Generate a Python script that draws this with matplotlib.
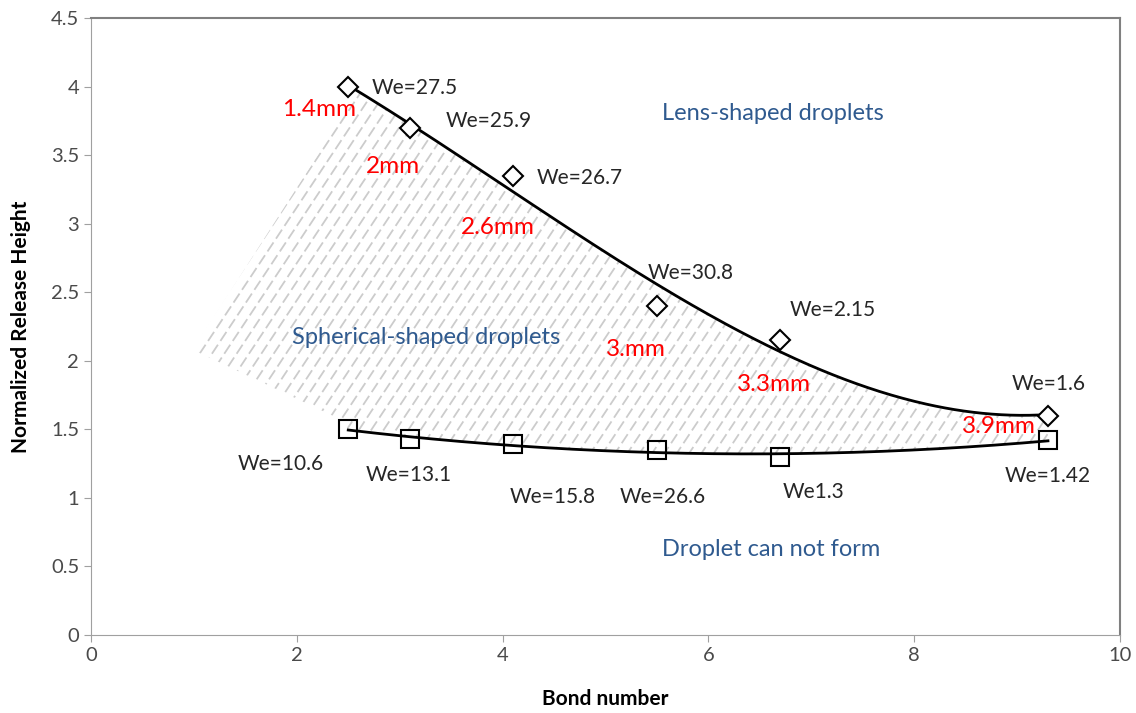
import numpy as np
import matplotlib
matplotlib.use("Agg")
import matplotlib.pyplot as plt
from matplotlib.patches import Polygon

plt.rcParams['font.family'] = ['Lato', 'DejaVu Sans']

# data
bond = [2.5, 3.1, 4.1, 5.5, 6.7, 9.3]
h_lens = [4.0, 3.7, 3.35, 2.4, 2.15, 1.6]
h_sphere = [1.5, 1.43, 1.39, 1.35, 1.3, 1.42]

we_upper = ["We=27.5", "We=25.9", "We=26.7", "We=30.8", "We=2.15", "We=1.6"]
we_upper_pos = [(2.73, 3.99), (3.45, 3.75), (4.33, 3.33), (5.41, 2.64), (6.79, 2.37), (8.95, 1.83)]
we_lower = ["We=10.6", "We=13.1", "We=15.8", "We=26.6", "We1.3", "We=1.42"]
we_lower_pos = [(1.43, 1.25), (2.67, 1.17), (4.07, 1.01), (5.14, 1.01), (6.72, 1.04), (8.88, 1.16)]
diam = ["1.4mm", "2mm", "2.6mm", "3.mm", "3.3mm", "3.9mm"]
diam_pos = [(1.86, 3.83), (2.67, 3.42), (3.59, 2.97), (5.0, 2.08), (6.28, 1.83), (8.46, 1.52)]
regions = ["Lens-shaped droplets", "Spherical-shaped droplets", "Droplet can not form"]
region_pos = [(5.55, 3.80), (1.95, 2.17), (5.55, 0.62)]

# trendlines (like the excel polynomial ones)
p_up = np.polyfit(bond, h_lens, 3)
p_lo = np.polyfit(bond, h_sphere, 2)
xs = np.linspace(bond[0], bond[-1], 300)
y_up = np.polyval(p_up, xs)
y_lo = np.polyval(p_lo, xs)

fig = plt.figure(figsize=(11.36, 7.13), dpi=100)
ax = fig.add_axes([0.0801, 0.1094, 0.9058, 0.8654])
ax.set_xlim(0, 10)
ax.set_ylim(0, 4.5)

# hatched zone between curves
xa = xs[xs >= 2.6]
poly_pts = [(0.99, 2.08), (2.6, np.polyval(p_up, 2.6))]
poly_pts += list(zip(xa, np.polyval(p_up, xa)))
poly_pts += list(zip(xs[::-1], y_lo[::-1]))
poly_pts += [(2.46, 1.56)]
clip = Polygon(poly_pts, closed=True, facecolor='none', edgecolor='none')
ax.add_patch(clip)
for x0 in np.arange(-4, 10, 0.12):
    ln, = ax.plot([x0, x0 + 5], [0, 5 * 1.13], color='#cccccc', lw=1.3,
                  ls=(0, (6, 2.5)), zorder=1)
    ln.set_clip_path(clip)

ax.plot(xs, y_up, color='black', lw=2, zorder=3)
ax.plot(xs, y_lo, color='black', lw=2, zorder=3)
ax.plot(bond, h_lens, ls='none', marker='D', ms=10, mfc='white', mec='black', mew=1.5, zorder=4)
ax.plot(bond, h_sphere, ls='none', marker='s', ms=13.5, mfc='none', mec='black', mew=1.5, zorder=4)

for t, (x, y) in zip(we_upper + we_lower, we_upper_pos + we_lower_pos):
    ax.text(x, y, t, fontsize=15, color='#262626', va='center', ha='left')
for t, (x, y) in zip(diam, diam_pos):
    ax.text(x, y, t, fontsize=17.5, color='red', va='center', ha='left')
for t, (x, y) in zip(regions, region_pos):
    ax.text(x, y, t, fontsize=17, color='#2F5A8F', va='center', ha='left')

ax.set_xticks(np.arange(0, 11, 2))
ax.set_yticks(np.arange(0, 4.51, 0.5))
ax.set_yticklabels(['0', '0.5', '1', '1.5', '2', '2.5', '3', '3.5', '4', '4.5'])
ax.tick_params(colors='#a0a0a0', labelcolor='#4a4a4a', labelsize=14.5, length=5, direction='out')
for s in ['left', 'bottom']:
    ax.spines[s].set_color('#a0a0a0')
for s in ['top', 'right']:
    ax.spines[s].set_color('#808080')
    ax.spines[s].set_linewidth(1.5)
ax.set_xlabel('Bond number', fontsize=15, fontweight='bold', labelpad=18)
ax.set_ylabel('Normalized Release Height', fontsize=15, fontweight='bold', labelpad=14)

fig.savefig('out.png', dpi=100)
